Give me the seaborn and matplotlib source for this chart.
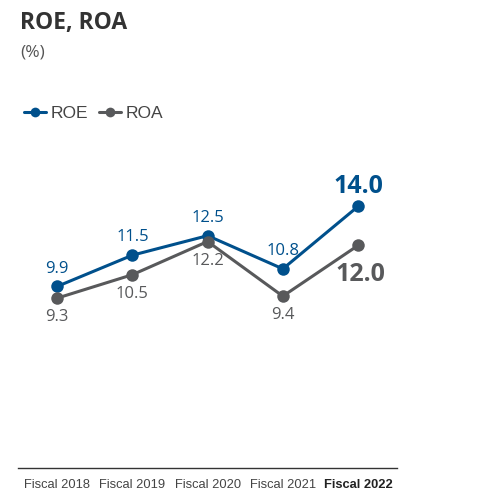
import pandas as pd
import matplotlib
matplotlib.use('Agg')
import matplotlib.pyplot as plt
import seaborn as sns

years = ['Fiscal 2018', 'Fiscal 2019', 'Fiscal 2020', 'Fiscal 2021', 'Fiscal 2022']
roe = [9.9, 11.5, 12.5, 10.8, 14.0]
roa = [9.3, 10.5, 12.2, 9.4, 12.0]

blue = '#00508c'
gray = '#58595b'

sns.set_style('white')
plt.rcParams['font.family'] = ['Open Sans', 'DejaVu Sans']
narrow = ['Liberation Sans', 'DejaVu Sans']

df = pd.DataFrame({
    'year': years * 2,
    'value': roe + roa,
    'metric': ['ROE'] * 5 + ['ROA'] * 5,
})

fig = plt.figure(figsize=(4.8, 5.0), dpi=100)
ax = fig.add_axes([0.0375, 0.064, 0.79, 0.656])

sns.lineplot(data=df, x='year', y='value', hue='metric', hue_order=['ROE', 'ROA'],
             palette={'ROE': blue, 'ROA': gray}, marker='o', markersize=9,
             markeredgewidth=0, linewidth=2.2, sort=False, ax=ax, legend=False)

ax.set_xlim(-0.52, 4.52)
ax.set_ylim(0.6, 17.4)

# data labels
for i, v in enumerate(roe):
    if i == 4:
        ax.annotate(f'{v:.1f}', (i, v), xytext=(0, 5), textcoords='offset points',
                    ha='center', va='bottom', color=blue, fontsize=18, fontweight='bold')
    else:
        ax.annotate(f'{v:.1f}', (i, v), xytext=(0, 7), textcoords='offset points',
                    ha='center', va='bottom', color=blue, fontsize=12)
for i, v in enumerate(roa):
    if i == 4:
        ax.annotate(f'{v:.1f}', (i, v), xytext=(2, -12), textcoords='offset points',
                    ha='center', va='top', color=gray, fontsize=18, fontweight='bold')
    else:
        ax.annotate(f'{v:.1f}', (i, v), xytext=(0, -8), textcoords='offset points',
                    ha='center', va='top', color=gray, fontsize=12)

for s in ['top', 'left', 'right']:
    ax.spines[s].set_visible(False)
ax.spines['bottom'].set_color('#333333')
ax.spines['bottom'].set_linewidth(1.0)
ax.set_yticks([])
ax.set_xlabel('')
ax.set_ylabel('')
ax.tick_params(axis='x', length=0, pad=8)
ax.set_xticks(range(len(years)))
ax.set_xticklabels(years, family=narrow, fontsize=9.3, color='#444444')
last = ax.get_xticklabels()[-1]
last.set_fontweight('bold')
last.set_color('#222222')

fig.text(0.042, 0.953, 'ROE, ROA', fontsize=16.5, fontweight='bold', color='#333333', va='center')
fig.text(0.042, 0.895, '(%)', fontsize=12.5, color='#555555', va='center')

handles = [plt.Line2D([], [], color=blue, marker='o', markersize=7, linewidth=2.2, markeredgewidth=0),
           plt.Line2D([], [], color=gray, marker='o', markersize=7, linewidth=2.2, markeredgewidth=0)]
fig.legend(handles, ['ROE', 'ROA'], loc='center left', bbox_to_anchor=(0.017, 0.773),
           ncol=2, frameon=False, handlelength=1.3, handletextpad=0.25, columnspacing=0.6,
           prop={'family': narrow, 'size': 12.5}, labelcolor='#444444')

fig.savefig('out.png', dpi=100)
